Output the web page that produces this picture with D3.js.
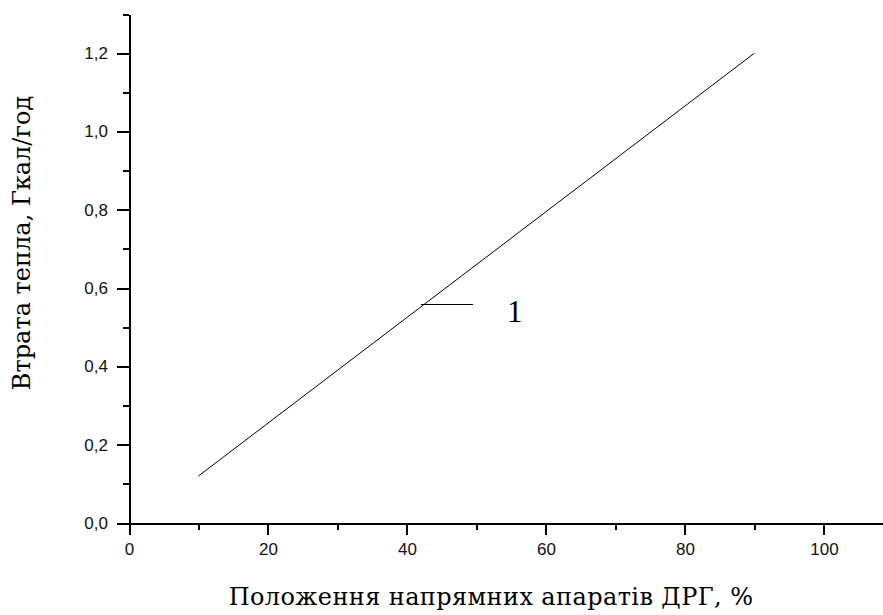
<!DOCTYPE html>
<html>
<head>
<meta charset="utf-8">
<script src="https://cdn.jsdelivr.net/npm/d3@7"></script>
<style>
  body { margin: 0; background: #fff; }
  .axis path, .axis line { stroke: #000; stroke-width: 2; shape-rendering: crispEdges; }
  .axis text { font-family: "Liberation Sans", Arial, sans-serif; font-size: 17px; fill: #111; }
  .title { font-family: "DejaVu Serif", serif; font-size: 24px; fill: #000; }
</style>
</head>
<body>
<svg width="883" height="615"></svg>
<script>
// data
const xValues = [10, 90];
const yValues = [0.12, 1.2];
const xTicks = [0, 20, 40, 60, 80, 100];
const xMinor = [10, 30, 50, 70, 90];
const yTicks = [0, 0.2, 0.4, 0.6, 0.8, 1.0, 1.2];
const yMinor = [0.1, 0.3, 0.5, 0.7, 0.9, 1.1, 1.3];
const curveLabel = ['1'];
const leaderX = [42, 49.5];
const leaderY = 0.558;
const labelPos = [55.5, 0.513];

const svg = d3.select('svg');

const x = d3.scaleLinear().domain([0, 108.5]).range([129, 883]);
const y = d3.scaleLinear().domain([0, 1.3]).range([523, 14]);

const fmt = d => d3.format('.1f')(d).replace('.', ',');

// minor ticks first, then main axes
svg.append('g')
    .attr('class', 'axis')
    .attr('transform', `translate(0,${y(0)})`)
    .call(d3.axisBottom(x).tickValues(xMinor).tickSize(7).tickFormat(''))
    .select('.domain').remove();

svg.append('g')
    .attr('class', 'axis')
    .attr('transform', `translate(${x(0)},0)`)
    .call(d3.axisLeft(y).tickValues(yMinor).tickSize(6).tickFormat(''))
    .select('.domain').remove();

svg.append('g')
    .attr('class', 'axis')
    .attr('transform', `translate(0,${y(0)})`)
    .call(d3.axisBottom(x).tickValues(xTicks).tickSize(12).tickSizeOuter(0).tickPadding(8));

svg.append('g')
    .attr('class', 'axis')
    .attr('transform', `translate(${x(0)},0)`)
    .call(d3.axisLeft(y).tickValues(yTicks).tickSize(12).tickSizeOuter(0).tickPadding(9).tickFormat(fmt));

// the curve
const pts = xValues.map((v, i) => [v, yValues[i]]);
svg.append('path')
    .datum(pts)
    .attr('fill', 'none')
    .attr('stroke', '#000')
    .attr('stroke-width', 1)
    .attr('d', d3.line().x(d => x(d[0])).y(d => y(d[1])));

// curve label with leader
svg.append('line')
    .attr('x1', x(leaderX[0])).attr('x2', x(leaderX[1]))
    .attr('y1', y(leaderY)).attr('y2', y(leaderY))
    .attr('stroke', '#000').attr('stroke-width', 1);

svg.append('text')
    .attr('x', x(labelPos[0]))
    .attr('y', y(labelPos[1]))
    .attr('text-anchor', 'middle')
    .style('font-family', '"Liberation Serif", serif')
    .style('font-size', '31px')
    .text(curveLabel[0]);

// axis titles
svg.append('text')
    .attr('class', 'title')
    .attr('x', 491)
    .attr('y', 605)
    .attr('text-anchor', 'middle')
    .style('letter-spacing', '0.4px')
    .text('Положення напрямних апаратів ДРГ, %');

svg.append('text')
    .attr('class', 'title')
    .attr('transform', 'translate(30,243) rotate(-90)')
    .attr('text-anchor', 'middle')
    .text('Втрата тепла, Гкал/год');
</script>
</body>
</html>
